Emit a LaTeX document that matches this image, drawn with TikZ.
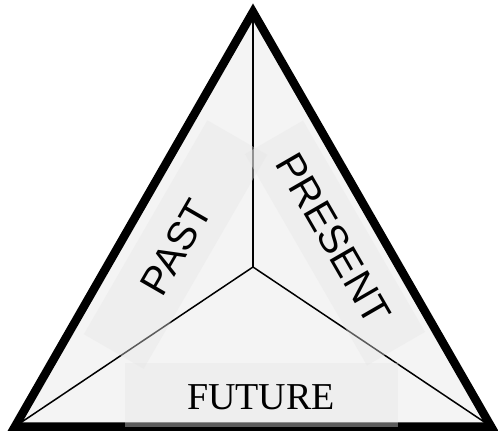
\documentclass[tikz,border=0pt]{standalone}
\usepackage{fontspec}
\newfontfamily\sansf{Liberation Sans}
\newfontfamily\seriff{Liberation Serif}
\definecolor{trifill}{HTML}{F4F4F4}
\definecolor{bandgray}{HTML}{E5E5E5}
\begin{document}
\begin{tikzpicture}[x=1pt,y=-1pt,
  band/.style={fill=bandgray, fill opacity=0.4, draw=none, inner sep=0pt},
  sidelabel/.style={font=\sansf\fontsize{40}{40}\selectfont, inner sep=0pt, text=black},
  baselabel/.style={font=\seriff\fontsize{38}{38}\selectfont, inner sep=0pt, text=black},
  spoke/.style={line width=1.5pt, draw=black},
  outline/.style={line width=8.5pt, draw=black, line join=miter}]
\useasboundingbox (0,0) rectangle (498,439);
\coordinate (T) at (253,12);
\coordinate (L) at (15,426.5);
\coordinate (R) at (491,426.5);
\coordinate (C) at (253,267);
\fill[trifill] (T) -- (L) -- (R) -- cycle;
\draw[spoke] (C) -- (T);
\draw[spoke] (C) -- (L);
\draw[spoke] (C) -- (R);
\draw[outline] (T) -- (L) -- (R) -- cycle;
\node[band, rotate=60, minimum width=247pt, minimum height=69pt] (pastband) at (175.5,244.5) {};
\node[band, rotate=-60, minimum width=244pt, minimum height=67pt] (presentband) at (335,243) {};
\node[band, minimum width=273pt, minimum height=64pt] (futureband) at (261.5,395) {};
\node[sidelabel, rotate=60] (past) at (176,247.5) {PAST};
\node[sidelabel, rotate=-60] (present) at (333.5,238.5) {PRESENT};
\node[baselabel] (future) at (261,397) {FUTURE};
\end{tikzpicture}
\end{document}
